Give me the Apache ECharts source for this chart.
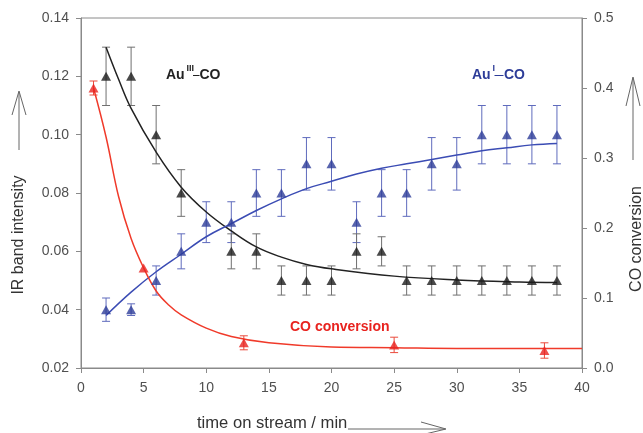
<!DOCTYPE html>
<html><head><meta charset="utf-8">
<script src="https://cdn.jsdelivr.net/npm/echarts@6/dist/echarts.min.js"></script>
<style>html,body{margin:0;padding:0;background:#fff}#c{width:643px;height:433px}</style>
</head><body><div id="c"></div>
<script>
// ---- data ----
const xTicks = [0, 5, 10, 15, 20, 25, 30, 35, 40];
const leftTicks = [0.02, 0.04, 0.06, 0.08, 0.10, 0.12, 0.14];
const rightTicks = [0.0, 0.1, 0.2, 0.3, 0.4, 0.5];

// Au(III)-CO (left axis)
const au3X   = [2, 4, 6, 8, 12, 14, 16, 18, 20, 22, 24, 26, 28, 30, 32, 34, 36, 38];
const au3Y   = [0.12, 0.12, 0.10, 0.08, 0.06, 0.06, 0.05, 0.05, 0.05, 0.06, 0.06, 0.05, 0.05, 0.05, 0.05, 0.05, 0.05, 0.05];
const au3Err = [0.01, 0.01, 0.01, 0.008, 0.006, 0.006, 0.005, 0.005, 0.005, 0.006, 0.005, 0.005, 0.005, 0.005, 0.005, 0.005, 0.005, 0.005];
const au3FitX = [2, 3, 4, 6, 8, 10, 12, 14, 16, 18, 20, 25, 30, 35, 38];
const au3FitY = [0.130, 0.119, 0.109, 0.094, 0.082, 0.0735, 0.067, 0.0615, 0.058, 0.0555, 0.054, 0.0515, 0.0502, 0.0495, 0.0493];

// Au(I)-CO (left axis)
const au1X   = [2, 4, 6, 8, 10, 12, 14, 16, 18, 20, 22, 24, 26, 28, 30, 32, 34, 36, 38];
const au1Y   = [0.04, 0.04, 0.05, 0.06, 0.07, 0.07, 0.08, 0.08, 0.09, 0.09, 0.07, 0.08, 0.08, 0.09, 0.09, 0.10, 0.10, 0.10, 0.10];
const au1Err = [0.004, 0.002, 0.005, 0.006, 0.007, 0.007, 0.008, 0.008, 0.009, 0.009, 0.007, 0.008, 0.008, 0.009, 0.009, 0.01, 0.01, 0.01, 0.01];
const au1FitX = [2, 4, 6, 8, 10, 12, 14, 16, 18, 20, 22, 24, 26, 28, 30, 32, 34, 36, 38];
const au1FitY = [0.038, 0.046, 0.053, 0.059, 0.065, 0.0695, 0.074, 0.078, 0.0815, 0.084, 0.0865, 0.0885, 0.090, 0.0915, 0.093, 0.0945, 0.0955, 0.0965, 0.097];

// CO conversion (right axis)
const coX   = [1, 5, 13, 25, 37];
const coY   = [0.40, 0.143, 0.036, 0.033, 0.025];
const coErr = [0.01, 0.0, 0.01, 0.011, 0.011];
const coFitX = [1, 2, 3, 4, 5, 6, 7, 8, 10, 12, 15, 20, 25, 30, 40];
const coFitY = [0.40, 0.33, 0.245, 0.185, 0.143, 0.11, 0.09, 0.076, 0.057, 0.045, 0.036, 0.030, 0.029, 0.028, 0.028];

// ---- build ----
const zip = (a, b) => a.map((v, i) => [v, b[i]]);
const errData = (x, y, e) => x.map((v, i) => [v, y[i] - e[i], y[i] + e[i]]);

function errItem(params, api) {
  const x = api.value(0), lo = api.value(1), hi = api.value(2);
  const a = api.coord([x, lo]), b = api.coord([x, hi]);
  const w = 4;
  const st = { stroke: api.visual('color'), lineWidth: 1 };
  if (hi - lo <= 0) return { type: 'group', children: [] };
  return { type: 'group', children: [
    { type: 'line', shape: { x1: a[0], y1: a[1], x2: b[0], y2: b[1] }, style: st },
    { type: 'line', shape: { x1: a[0] - w, y1: a[1], x2: a[0] + w, y2: a[1] }, style: st },
    { type: 'line', shape: { x1: b[0] - w, y1: b[1], x2: b[0] + w, y2: b[1] }, style: st }
  ]};
}

const C_BLACK = '#1b1b1b', C_BLUE = '#2d3c98', C_RED = '#e8231f';
const FONT = '"Liberation Sans", Arial, sans-serif';

const chart = echarts.init(document.getElementById('c'), null, { renderer: 'canvas' });

const axisCommon = {
  axisLine: { show: true, lineStyle: { color: '#8a8a8a', width: 1 } },
  axisTick: { show: true, inside: false, length: 5, lineStyle: { color: '#8a8a8a' } },
  splitLine: { show: false },
  axisLabel: { color: '#505050', fontSize: 14, fontFamily: FONT }
};

chart.setOption({
  backgroundColor: '#fff',
  animation: false,
  grid: { left: 81, right: 61, top: 18, bottom: 65, show: true, borderColor: '#8a8a8a', borderWidth: 1 },
  xAxis: Object.assign({}, axisCommon, {
    type: 'value', min: xTicks[0], max: xTicks[xTicks.length - 1], interval: xTicks[1] - xTicks[0],
    axisLabel: Object.assign({}, axisCommon.axisLabel, { margin: 13 })
  }),
  yAxis: [
    Object.assign({}, axisCommon, {
      type: 'value', position: 'left', min: leftTicks[0], max: leftTicks[leftTicks.length - 1], interval: 0.02,
      axisLabel: Object.assign({}, axisCommon.axisLabel, { margin: 12, formatter: v => v.toFixed(2) })
    }),
    Object.assign({}, axisCommon, {
      type: 'value', position: 'right', min: rightTicks[0], max: rightTicks[rightTicks.length - 1], interval: 0.1,
      axisLabel: Object.assign({}, axisCommon.axisLabel, { margin: 12, formatter: v => v.toFixed(1) })
    })
  ],
  series: [
    { type: 'custom', name: 'au1err', yAxisIndex: 0, renderItem: errItem, itemStyle: { color: '#5f6bbd' },
      encode: { x: 0, y: [1, 2] }, data: errData(au1X, au1Y, au1Err), z: 2 },
    { type: 'custom', name: 'au3err', yAxisIndex: 0, renderItem: errItem, itemStyle: { color: '#707070' },
      encode: { x: 0, y: [1, 2] }, data: errData(au3X, au3Y, au3Err), z: 2 },
    { type: 'custom', name: 'coerr', yAxisIndex: 1, renderItem: errItem, itemStyle: { color: '#ea4a3c' },
      encode: { x: 0, y: [1, 2] }, data: errData(coX, coY, coErr), z: 2 },
    { type: 'line', yAxisIndex: 0, data: zip(au3FitX, au3FitY), smooth: 0.4, showSymbol: false,
      lineStyle: { color: '#222', width: 1.5 }, z: 3 },
    { type: 'line', yAxisIndex: 0, data: zip(au1FitX, au1FitY), smooth: 0.4, showSymbol: false,
      lineStyle: { color: '#3b4cb4', width: 1.5 }, z: 3 },
    { type: 'line', yAxisIndex: 1, data: zip(coFitX, coFitY), smooth: 0.4, showSymbol: false,
      lineStyle: { color: '#f03a2a', width: 1.5 }, z: 3 },
    { type: 'scatter', yAxisIndex: 0, data: zip(au3X, au3Y), symbol: 'triangle', symbolSize: [10, 9],
      itemStyle: { color: C_BLACK }, z: 4 },
    { type: 'scatter', yAxisIndex: 0, data: zip(au1X, au1Y), symbol: 'triangle', symbolSize: [10, 9],
      itemStyle: { color: C_BLUE }, z: 4 },
    { type: 'scatter', yAxisIndex: 1, data: zip(coX, coY), symbol: 'triangle', symbolSize: [10, 9],
      itemStyle: { color: C_RED }, z: 4 }
  ],
  graphic: [
    // left axis title + arrow
    { type: 'text', x: 19, y: 235, rotation: Math.PI / 2,
      style: { text: 'IR band intensity', font: '16px ' + FONT, fill: '#333', textAlign: 'center', textVerticalAlign: 'middle' } },
    { type: 'polyline', shape: { points: [[19, 150], [19, 92]] }, style: { stroke: '#666', lineWidth: 1, fill: null } },
    { type: 'polyline', shape: { points: [[12, 115], [19, 91], [26, 115]] }, style: { stroke: '#666', lineWidth: 1, fill: null } },
    // right axis title + arrow
    { type: 'text', x: 637, y: 239, rotation: Math.PI / 2,
      style: { text: 'CO conversion', font: '16px ' + FONT, fill: '#333', textAlign: 'center', textVerticalAlign: 'middle' } },
    { type: 'polyline', shape: { points: [[633, 160], [633, 78]] }, style: { stroke: '#666', lineWidth: 1, fill: null } },
    { type: 'polyline', shape: { points: [[626, 106], [633, 77], [640, 106]] }, style: { stroke: '#666', lineWidth: 1, fill: null } },
    // x axis title + arrow
    { type: 'text', x: 197, y: 423,
      style: { text: 'time on stream / min', font: '16.6px ' + FONT, fill: '#333', textAlign: 'left', textVerticalAlign: 'middle' } },
    { type: 'polyline', shape: { points: [[348, 429], [445, 429]] }, style: { stroke: '#666', lineWidth: 1, fill: null } },
    { type: 'polyline', shape: { points: [[421, 422], [446, 429], [421, 435]] }, style: { stroke: '#666', lineWidth: 1, fill: null } },
    // Au(III)-CO label
    { type: 'text', x: 166, y: 75, style: { text: 'Au', font: 'bold 14px ' + FONT, fill: '#222', textAlign: 'left', textVerticalAlign: 'middle' } },
    { type: 'text', x: 186.5, y: 69, style: { text: 'III', font: 'bold 9px ' + FONT, fill: '#222', textAlign: 'left', textVerticalAlign: 'middle' } },
    { type: 'line', shape: { x1: 193, y1: 75.5, x2: 199.5, y2: 75.5 }, style: { stroke: '#222', lineWidth: 1 } },
    { type: 'text', x: 199.5, y: 75, style: { text: 'CO', font: 'bold 14px ' + FONT, fill: '#222', textAlign: 'left', textVerticalAlign: 'middle' } },
    // Au(I)-CO label
    { type: 'text', x: 472, y: 75, style: { text: 'Au', font: 'bold 14px ' + FONT, fill: C_BLUE, textAlign: 'left', textVerticalAlign: 'middle' } },
    { type: 'text', x: 492.5, y: 69, style: { text: 'I', font: 'bold 9px ' + FONT, fill: C_BLUE, textAlign: 'left', textVerticalAlign: 'middle' } },
    { type: 'line', shape: { x1: 494.5, y1: 75.5, x2: 503.5, y2: 75.5 }, style: { stroke: C_BLUE, lineWidth: 1 } },
    { type: 'text', x: 504, y: 75, style: { text: 'CO', font: 'bold 14px ' + FONT, fill: C_BLUE, textAlign: 'left', textVerticalAlign: 'middle' } },
    // CO conversion label
    { type: 'text', x: 290, y: 327, style: { text: 'CO conversion', font: 'bold 14px ' + FONT, fill: C_RED, textAlign: 'left', textVerticalAlign: 'middle' } }
  ]
});
</script>
</body></html>
